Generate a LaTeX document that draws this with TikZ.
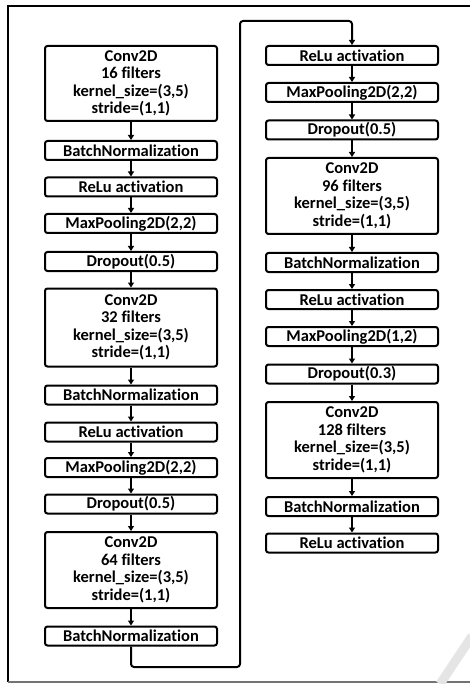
\documentclass[tikz,border=0pt]{standalone}
\usepackage{fontspec}
\setmainfont{Carlito}[Ligatures=NoCommon]
\usetikzlibrary{arrows.meta}
\tikzset{
  layer/.style={draw=black, line width=2pt, rounded corners=2.5pt, minimum width=172pt,
    minimum height=19pt, inner sep=0pt, align=center,
    font=\fontsize{16.5}{17.5}\selectfont\bfseries},
  convbox/.style={layer, minimum height=76pt},
  flow/.style={draw=black, line width=2pt, -{Triangle[length=5pt,width=6pt]}},
  frame/.style={draw=black, line width=2pt}
}
\begin{document}
\begin{tikzpicture}[x=1pt,y=-1pt]
\useasboundingbox (0,0) rectangle (470,684);
% outer frame
\draw[frame] (470,6) -- (8,6) -- (8,682);
\draw[draw=black!55, line width=2pt] (8,682) -- (470,682);
\draw[draw=black!10, line width=9pt] (440,684) -- (472,636);
% left column
\node[convbox, minimum height=75pt] (c16) at (131,83.5) {Conv2D\\16 filters\\kernel\_size=(3,5)\\stride=(1,1)};
\node[layer] (bn1) at (131,150.5) {BatchNormalization};
\node[layer] (r1) at (131,187) {ReLu activation};
\node[layer] (mp1) at (131,223.5) {MaxPooling2D(2,2)};
\node[layer] (d1) at (131,261.5) {Dropout(0.5)};
\node[convbox, minimum height=78pt] (c32) at (131,327.5) {Conv2D\\32 filters\\kernel\_size=(3,5)\\stride=(1,1)};
\node[layer] (bn2) at (131,395) {BatchNormalization};
\node[layer] (r2) at (131,432) {ReLu activation};
\node[layer] (mp2) at (131,467.5) {MaxPooling2D(2,2)};
\node[layer] (d2) at (131,504) {Dropout(0.5)};
\node[convbox] (c64) at (131,570) {Conv2D\\64 filters\\kernel\_size=(3,5)\\stride=(1,1)};
\node[layer] (bn3) at (131,636) {BatchNormalization};
% right column
\node[layer] (r3) at (352,55.5) {ReLu activation};
\node[layer] (mp3) at (352,92.5) {MaxPooling2D(2,2)};
\node[layer] (d3) at (352,130) {Dropout(0.5)};
\node[convbox] (c96) at (352,196) {Conv2D\\96 filters\\kernel\_size=(3,5)\\stride=(1,1)};
\node[layer] (bn4) at (352,262.5) {BatchNormalization};
\node[layer] (r4) at (352,299.5) {ReLu activation};
\node[layer] (mp4) at (352,336.5) {MaxPooling2D(1,2)};
\node[layer] (d4) at (352,374) {Dropout(0.3)};
\node[convbox] (c128) at (352,440) {Conv2D\\128 filters\\kernel\_size=(3,5)\\stride=(1,1)};
\node[layer] (bn5) at (352,506.5) {BatchNormalization};
\node[layer] (r5) at (352,543) {ReLu activation};
% arrows
\foreach \a/\b in {c16/bn1, bn1/r1, r1/mp1, mp1/d1, d1/c32, c32/bn2, bn2/r2, r2/mp2, mp2/d2, d2/c64, c64/bn3,
  r3/mp3, mp3/d3, d3/c96, c96/bn4, bn4/r4, r4/mp4, mp4/d4, d4/c128, c128/bn5, bn5/r5}
  \draw[flow] (\a.south) -- (\b.north);
\coordinate (p1) at (131,667);
\coordinate (p2) at (240,667);
\coordinate (p3) at (240,21);
\coordinate (p4) at (352,21);
\draw[flow, rounded corners=3pt] (bn3.south) -- (p1) -- (p2) -- (p3) -- (p4) -- (r3.north);
\end{tikzpicture}
\end{document}
